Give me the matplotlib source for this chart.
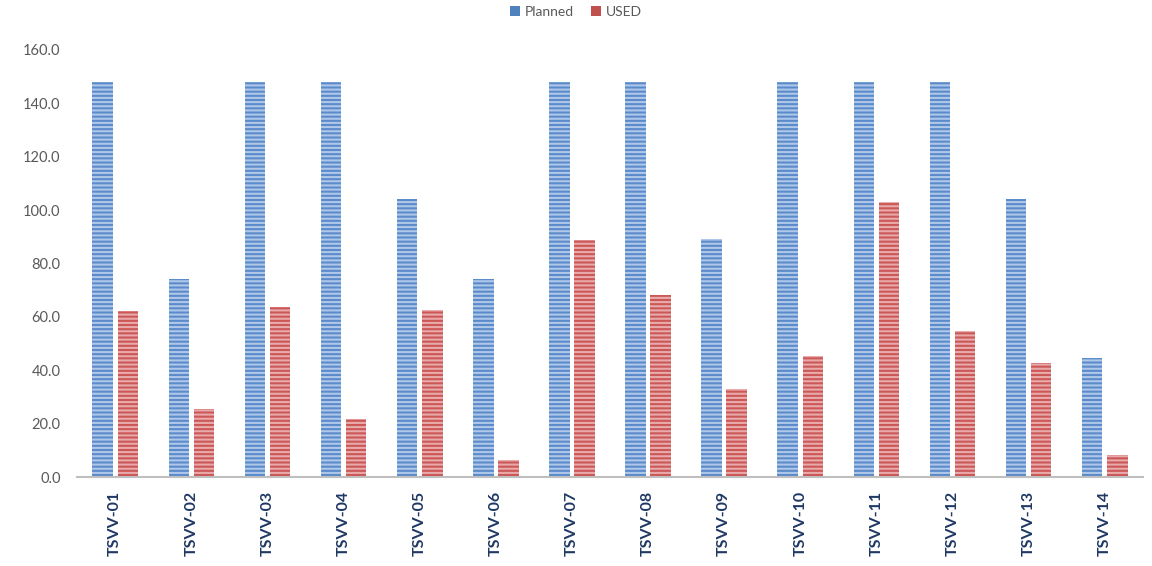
import numpy as np
import matplotlib
matplotlib.use('Agg')
import matplotlib.pyplot as plt

plt.rcParams['font.family'] = ['Lato', 'DejaVu Sans']
plt.rcParams['hatch.linewidth'] = 1.5

categories = ['TSVV-01', 'TSVV-02', 'TSVV-03', 'TSVV-04', 'TSVV-05', 'TSVV-06', 'TSVV-07',
              'TSVV-08', 'TSVV-09', 'TSVV-10', 'TSVV-11', 'TSVV-12', 'TSVV-13', 'TSVV-14']
planned = [148, 74, 148, 148, 104, 74, 148, 148, 89, 148, 148, 148, 104, 44.5]
used = [62.2, 25.5, 63.7, 21.7, 62.6, 6.4, 88.8, 68.2, 33.0, 45.3, 103.0, 54.7, 42.7, 8.2]

fig = plt.figure(figsize=(11.52, 5.66), dpi=100)
ax = fig.add_axes([0.067, 0.157, 0.925, 0.755])

x = np.arange(len(categories))
w = 0.27
gap = 0.03
b1 = ax.bar(x - w/2 - gap, planned, w, color='#5B8BCB', edgecolor='#AFC7E8',
            hatch='----', linewidth=0, label='Planned')
b2 = ax.bar(x + w/2 + gap, used, w, color='#CC5757', edgecolor='#E8AAAA',
            hatch='----', linewidth=0, label='USED')

ax.set_xlim(-0.5, len(categories) - 0.5)
ax.set_ylim(0, 160)
ax.set_yticks(np.arange(0, 161, 20))
ax.set_yticklabels(['%.1f' % v for v in np.arange(0, 161, 20)], fontsize=10.5, color='#595959')
ax.set_xticks(x)
ax.set_xticklabels(categories, rotation=90, fontsize=11.5, fontweight='bold', color='#1F3864')
ax.tick_params(axis='both', length=0)
ax.tick_params(axis='y', pad=12)
ax.tick_params(axis='x', pad=10)

for s in ['top', 'right', 'left']:
    ax.spines[s].set_visible(False)
ax.spines['bottom'].set_color('#BFBFBF')
ax.spines['bottom'].set_linewidth(1.5)

leg = fig.legend(handles=[b1, b2], loc='upper center', bbox_to_anchor=(0.5, 1.012), ncol=2,
                 frameon=False, fontsize=10, handlelength=0.7, handleheight=0.7,
                 columnspacing=1.2, handletextpad=0.4)
for t in leg.get_texts():
    t.set_color('#595959')
for h, c in zip(leg.legend_handles, ['#4F81BD', '#C0504D']):
    h.set_hatch(None)
    h.set_facecolor(c)

fig.savefig('out.png', dpi=100)
